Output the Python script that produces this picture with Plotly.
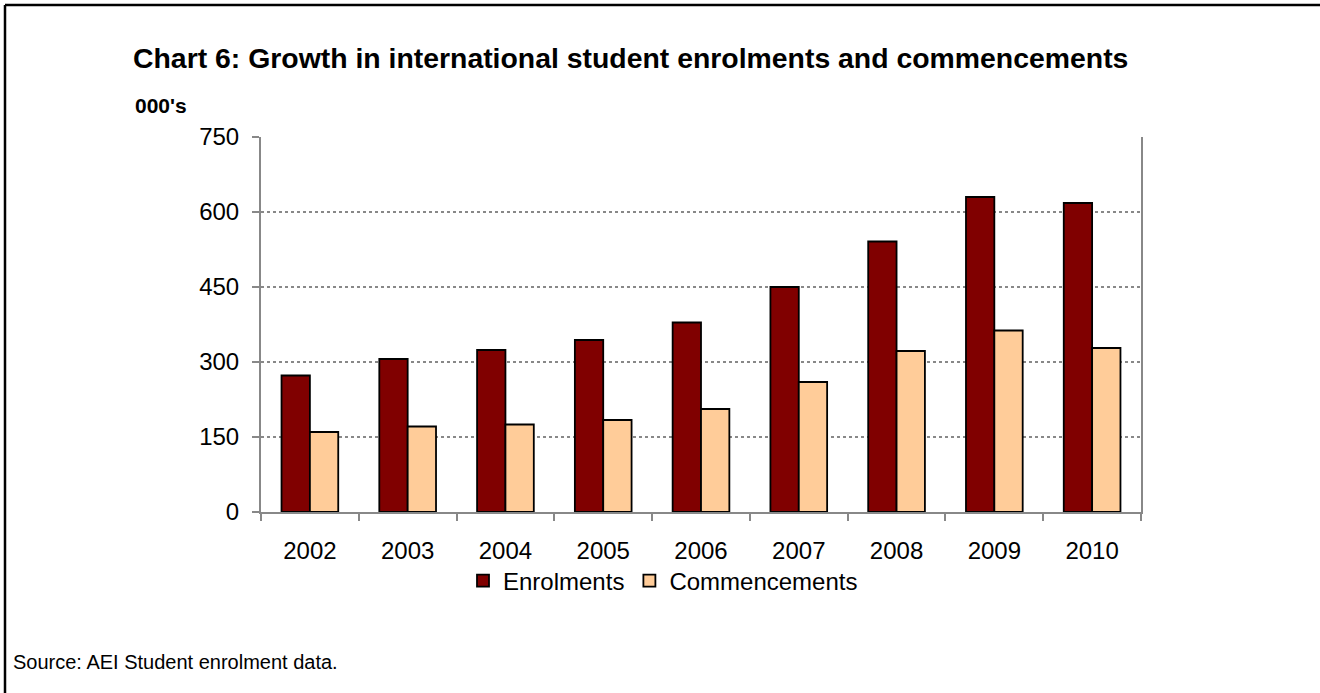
import plotly.graph_objects as go

# Chart 6 data (000's)
years = ['2002', '2003', '2004', '2005', '2006', '2007', '2008', '2009', '2010']
enrolments = [273, 306, 324, 344, 379, 450, 541, 630, 618]
commencements = [160, 171, 175, 184, 206, 260, 322, 363, 328]
y_ticks = [0, 150, 300, 450, 600, 750]

W, H = 1320, 693
L, R, T, B = 261, 179, 137, 181
PW, PH = W - L - R, H - T - B

FONT = 'Liberation Sans, Arial, sans-serif'


def px(x):
    # pixel x -> paper x
    return (x - L) / PW


def py(y):
    # pixel y (from top) -> paper y
    return (H - B - y) / PH


fig = go.Figure()

fig.add_trace(go.Bar(
    x=years, y=enrolments, name='Enrolments',
    marker=dict(color='#800000', line=dict(color='black', width=1.8)),
))
fig.add_trace(go.Bar(
    x=years, y=commencements, name='Commencements',
    marker=dict(color='#FFCC99', line=dict(color='black', width=1.8)),
))

fig.update_layout(
    width=W, height=H,
    margin=dict(l=L, r=R, t=T, b=B),
    paper_bgcolor='white', plot_bgcolor='white',
    font=dict(family=FONT, size=24, color='black'),
    barmode='group', bargap=0.42, bargroupgap=0,
    title=dict(
        text='<b>Chart 6: Growth in international student enrolments and commencements</b>',
        xref='container', yref='container', x=133 / W, y=1 - 58 / H,
        xanchor='left', yanchor='middle',
        font=dict(family=FONT, size=28.4, color='black'),
    ),
    showlegend=True,
    legend=dict(
        orientation='h', xref='paper', yref='paper',
        x=px(463), y=py(581), xanchor='left', yanchor='middle',
        font=dict(family=FONT, size=24), itemwidth=30,
        bgcolor='rgba(0,0,0,0)',
    ),
    xaxis=dict(
        showline=True, linecolor='#888888', linewidth=2,
        ticks='outside', tickson='boundaries', ticklen=7,
        tickcolor='#888888', tickwidth=2,
        tickfont=dict(family=FONT, size=24), ticklabelstandoff=16,
        showgrid=False, fixedrange=True,
    ),
    yaxis=dict(
        range=[0, 750], tickvals=y_ticks,
        showline=True, mirror=True, linecolor='#888888', linewidth=2,
        ticks='outside', ticklen=7, tickcolor='#888888', tickwidth=2,
        showgrid=True, gridcolor='#888888', griddash='dot', gridwidth=1.5,
        tickfont=dict(family=FONT, size=24), ticklabelstandoff=8,
        zeroline=False, fixedrange=True,
    ),
)

fig.add_annotation(
    text="<b>000's</b>", xref='paper', yref='paper',
    x=px(133), y=py(105), xanchor='left', yanchor='middle',
    showarrow=False, font=dict(family=FONT, size=21, color='black'),
)
fig.add_annotation(
    text='Source: AEI Student enrolment data.', xref='paper', yref='paper',
    x=px(11), y=py(662), xanchor='left', yanchor='middle',
    showarrow=False, font=dict(family=FONT, size=20, color='black'),
)

# outer frame (top and left edges visible in the reference)
fig.add_shape(type='line', xref='paper', yref='paper',
              x0=px(5), x1=px(W + 5), y0=py(5), y1=py(5),
              line=dict(color='black', width=2.5))
fig.add_shape(type='line', xref='paper', yref='paper',
              x0=px(5), x1=px(5), y0=py(5), y1=py(H + 5),
              line=dict(color='black', width=2.5))

# drop the browser's default body margin so the figure sits at 0,0
fig.write_html("out.html", config={'displayModeBar': False},
               post_script="document.body.style.margin='0';")
